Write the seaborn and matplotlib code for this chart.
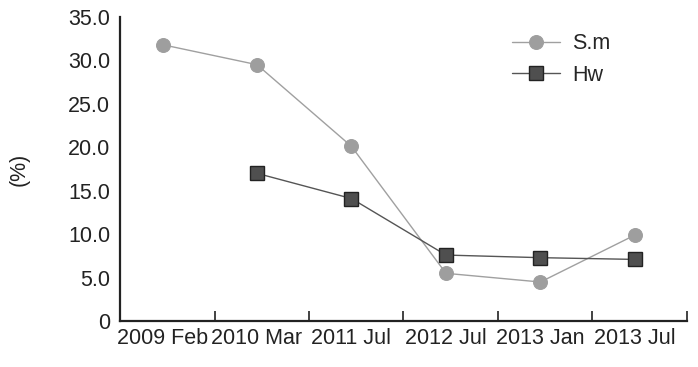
import numpy as np
import pandas as pd
import matplotlib
matplotlib.use("Agg")
import matplotlib.pyplot as plt
from matplotlib import font_manager
import seaborn as sns

periods = ["2009 Feb", "2010 Mar", "2011 Jul", "2012 Jul", "2013 Jan", "2013 Jul"]
sm_values = [31.8, 29.5, 20.1, 5.5, 4.5, 9.9]
hw_values = [np.nan, 17.0, 14.1, 7.6, 7.3, 7.1]
y_ticks = [0, 5, 10, 15, 20, 25, 30, 35]
y_tick_labels = ["0", "5.0", "10.0", "15.0", "20.0", "25.0", "30.0", "35.0"]

sns.set_theme(style="ticks")
names = {f.name for f in font_manager.fontManager.ttflist}
if "Liberation Sans Narrow" in names:
    plt.rcParams["font.family"] = ["Liberation Sans Narrow", "DejaVu Sans"]
    fs = 18.5
else:
    plt.rcParams["font.family"] = ["Liberation Sans", "DejaVu Sans"]
    fs = 15.5

df = pd.DataFrame({"period": periods, "S.m": sm_values, "Hw": hw_values})
df["pos"] = np.arange(len(periods))

fig = plt.figure(figsize=(6.98, 3.67), dpi=100)
ax = fig.add_axes([0.172, 0.125, 0.812, 0.829])

sns.lineplot(data=df, x="pos", y="S.m", ax=ax, color="#a0a0a0", linewidth=1.0,
             marker="o", markersize=10, markerfacecolor="#9e9e9e",
             markeredgecolor="#9e9e9e", label="S.m")
hw = df.dropna(subset=["Hw"])
sns.lineplot(data=hw, x="pos", y="Hw", ax=ax, color="#555555", linewidth=1.0,
             marker="s", markersize=10, markerfacecolor="#4f4f4f",
             markeredgecolor="#222222", markeredgewidth=1.0, label="Hw")

ax.set_xlim(-0.45, len(periods) - 0.45)
ax.set_ylim(0, 35)
ax.set_yticks(y_ticks)
ax.set_yticklabels(y_tick_labels, fontsize=fs, color="#222222")
ax.set_xticks(df["pos"])
ax.set_xticklabels(periods, fontsize=fs, color="#222222")
ax.set_xticks(np.arange(len(periods)) + 0.55, minor=True)
ax.tick_params(axis="x", which="major", length=0, pad=5)
ax.tick_params(axis="x", which="minor", direction="in", length=7, width=1.2, color="#222222")
ax.tick_params(axis="y", length=0, pad=7)
ax.set_xlabel("")
ax.set_ylabel("(%)", fontsize=fs, color="#222222", labelpad=28)
sns.despine(ax=ax)
for side in ["left", "bottom"]:
    ax.spines[side].set_linewidth(1.6)
    ax.spines[side].set_color("#222222")

ax.legend(loc="upper right", bbox_to_anchor=(0.90, 1.01), frameon=False,
          fontsize=fs, handlelength=2.2, handletextpad=0.6, labelspacing=0.5)

fig.savefig("out.png", dpi=100)
